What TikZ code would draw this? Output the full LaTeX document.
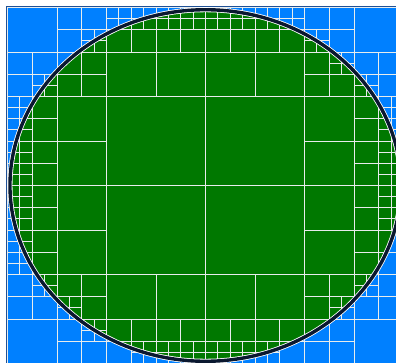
\documentclass[tikz,border=0pt]{standalone}
\usepackage{xcolor}
\definecolor{outerblue}{RGB}{0,128,255}
\definecolor{innergreen}{RGB}{0,120,0}
\definecolor{edgenavy}{RGB}{10,24,48}
\definecolor{framenavy}{RGB}{30,80,150}
\definecolor{gridwhite}{RGB}{232,236,236}

\begin{document}
\begin{tikzpicture}[x=99pt, y=-89pt,
  gridline/.style={gridwhite, line width=1pt},
  halo/.style={white, line width=5pt},
  iface/.style={edgenavy, line width=3.4pt},
  frame/.style={framenavy, line width=1.4pt}
]
\useasboundingbox (-0.07576,-0.08427) rectangle (3.92424,3.98315);
\clip (-0.07576,-0.08427) rectangle (3.92424,3.98315);

% outside and inside of the disc
\fill[outerblue] (0,0) rectangle (4,4);
\fill[innergreen] (2,2) circle [radius=1.975];

% root cells
\draw[gridline] (0,0) rectangle (4,4);
\foreach \k in {1,2,3}
  \draw[gridline] (\k,0) -- (\k,4) (0,\k) -- (4,\k);

% refined cells: corner / size
\foreach \u/\v in {0/0,1/0,2/0,3/0,0/1,3/1,0/2,3/2,0/3,1/3,2/3,3/3}
  \draw[gridline] (\u+0.5,\v) -- ++(0,1) (\u,\v+0.5) -- ++(1,0);

\foreach \u/\v in {0.5/0,0/0.5,0.5/0.5,1/0,1.5/0,2/0,2.5/0,3/0,3/0.5,3.5/0.5,
    0/1,0/1.5,3.5/1,3.5/1.5,0/2,0/2.5,3.5/2,3.5/2.5,
    0/3,0.5/3,0.5/3.5,1/3.5,1.5/3.5,2/3.5,2.5/3.5,3/3,3.5/3,3/3.5}
  \draw[gridline] (\u+0.25,\v) -- ++(0,0.5) (\u,\v+0.25) -- ++(0.5,0);

\foreach \u/\v in {0.75/0.25,0.25/0.75,
    1/0,1.25/0,1.5/0,1.75/0,2/0,2.25/0,2.5/0,2.75/0,
    3/0.25,3.25/0.5,3.5/0.75,
    0/1,0/1.25,0/1.5,0/1.75,0/2,0/2.25,0/2.5,0/2.75,
    3.75/1,3.75/1.25,3.75/1.5,3.75/1.75,3.75/2,3.75/2.25,
    0.25/3,0.5/3.25,0.75/3.5,
    1.25/3.75,1.5/3.75,1.75/3.75,2/3.75,2.25/3.75,2.5/3.75,
    3.25/3.25,3.5/3}
  \draw[gridline] (\u+0.125,\v) -- ++(0,0.25) (\u,\v+0.125) -- ++(0.25,0);

% interface
\draw[halo] (2,2) circle [radius=1.975];
\draw[iface] (2,2) circle [radius=1.975];

% frame
\draw[frame] (-0.012,4.1) -- (-0.012,-0.013) -- (4.1,-0.013);
\end{tikzpicture}
\end{document}
